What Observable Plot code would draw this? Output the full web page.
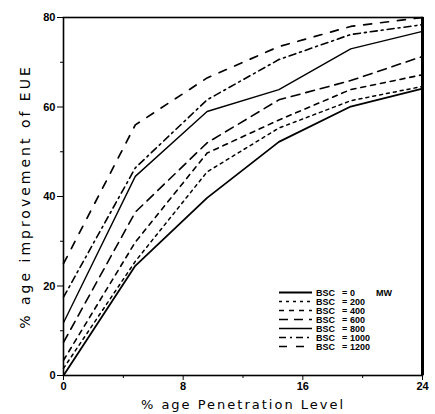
<!DOCTYPE html>
<html><head><meta charset="utf-8">
<script src="https://cdn.jsdelivr.net/npm/d3@7"></script>
<script src="https://cdn.jsdelivr.net/npm/@observablehq/plot@0.6"></script>
<style>
body{margin:0;background:#fff;}
#wrap{position:relative;width:435px;height:414px;overflow:hidden;}
#legend{position:absolute;left:279px;top:288px;font:bold 9px "Liberation Sans",sans-serif;color:#000;}
#legend .row{display:flex;align-items:center;height:9px;}
#legend .row span{display:inline-block;white-space:pre;}
</style></head><body><div id="wrap"></div>
<script>
// x: % age penetration level
const penetration = [0, 4.8, 9.6, 14.4, 19.2, 24];
// y: % age improvement of EUE, one array per BSC value
const bsc0    = [0.0, 24.5, 39.7, 52.2, 60.1, 64.1];
const bsc200  = [1.6, 25.5, 45.5, 55.3, 61.4, 64.6];
const bsc400  = [3.4, 29.8, 49.7, 57.1, 63.9, 67.2];
const bsc600  = [7.4, 36.5, 52.0, 61.6, 65.9, 71.3];
const bsc800  = [11.8, 44.5, 59.0, 63.9, 73.0, 76.9];
const bsc1000 = [17.5, 46.4, 61.6, 70.6, 76.2, 78.4];
const bsc1200 = [25.0, 56.0, 66.5, 73.5, 78.0, 80.0];
const bscValues = ["0", "200", "400", "600", "800", "1000", "1200"];
const bscUnit = ["MW", "", "", "", "", "", ""];
const yTicks = [0, 20, 40, 60, 80];
const yMinor = [10, 30, 50, 70];
const xTicks = [0, 8, 16, 24];
const xMinor = [4, 12, 20];
const xLabel = "% age Penetration Level";
const yLabel = "% age improvement of EUE";

const seriesValues = [bsc0, bsc200, bsc400, bsc600, bsc800, bsc1000, bsc1200];
const styles = [
  {dash: null, w: 1.8},
  {dash: "3,4", w: 1.5},
  {dash: "5,5", w: 1.6},
  {dash: "9,6", w: 1.6},
  {dash: null, w: 1.4},
  {dash: "7,4,2,4", w: 1.6},
  {dash: "8,9", w: 1.7}
];
const table = seriesValues.flatMap((vals, s) =>
  penetration.map((p, i) => ({p, v: vals[i], s})));

const lineMarks = seriesValues.map((vals, s) =>
  Plot.line(table.filter(d => d.s === s), {
    x: "p", y: "v", stroke: "#000",
    strokeWidth: styles[s].w,
    strokeDasharray: styles[s].dash ?? undefined
  }));

const chart = Plot.plot({
  width: 435, height: 414,
  marginLeft: 63, marginRight: 13, marginTop: 17, marginBottom: 39,
  x: {domain: [0, 24]},
  y: {domain: [0, 80]},
  style: {fontFamily: "Liberation Sans, sans-serif", fontSize: "11px", color: "#000", background: "#fff"},
  marks: [
    Plot.frame({stroke: "#000", strokeWidth: 1.6}),
    Plot.ruleX([24], {stroke: "#000", strokeWidth: 3}),
    Plot.axisY(yTicks, {tickSize: 6, tickPadding: 2, fontWeight: "bold", label: yLabel,
      labelAnchor: "center", labelArrow: "none", labelOffset: 43}),
    Plot.axisY(yMinor, {tickSize: 3, text: null, label: null}),
    Plot.axisX(xTicks, {tickSize: 5, tickPadding: 2, fontWeight: "bold", label: xLabel,
      labelAnchor: "center", labelArrow: "none", labelOffset: 33}),
    Plot.axisX(xMinor, {tickSize: 3, text: null, label: null}),
    ...lineMarks
  ]
});
const wrap = document.getElementById("wrap");
wrap.appendChild(chart);
d3.select(chart).selectAll('[aria-label="y-axis label"] text')
  .style("font-family", "DejaVu Sans, sans-serif")
  .style("font-size", "14px").style("letter-spacing", "3px").style("font-weight", "normal");
d3.select(chart).selectAll('[aria-label="x-axis label"] text')
  .style("font-family", "DejaVu Sans, sans-serif")
  .style("font-size", "13px").style("letter-spacing", "2px").style("font-weight", "normal");

// legend
const legend = document.createElement("div");
legend.id = "legend";
bscValues.forEach((val, s) => {
  const row = document.createElement("div");
  row.className = "row";
  const ns = "http://www.w3.org/2000/svg";
  const svg = document.createElementNS(ns, "svg");
  svg.setAttribute("width", 34); svg.setAttribute("height", 9);
  const ln = document.createElementNS(ns, "line");
  ln.setAttribute("x1", 0); ln.setAttribute("x2", 33);
  ln.setAttribute("y1", 4.5); ln.setAttribute("y2", 4.5);
  ln.setAttribute("stroke", "#000");
  ln.setAttribute("stroke-width", styles[s].w);
  if (styles[s].dash) ln.setAttribute("stroke-dasharray", styles[s].dash);
  svg.appendChild(ln);
  row.appendChild(svg);
  const mk = (t, w) => { const sp = document.createElement("span"); sp.textContent = t; if (w) sp.style.width = w + "px"; row.appendChild(sp); };
  mk("", 3);
  mk("BSC", 26);
  mk("=", 8);
  mk(val, 26);
  mk(bscUnit[s]);
  legend.appendChild(row);
});
wrap.appendChild(legend);
</script></body></html>
